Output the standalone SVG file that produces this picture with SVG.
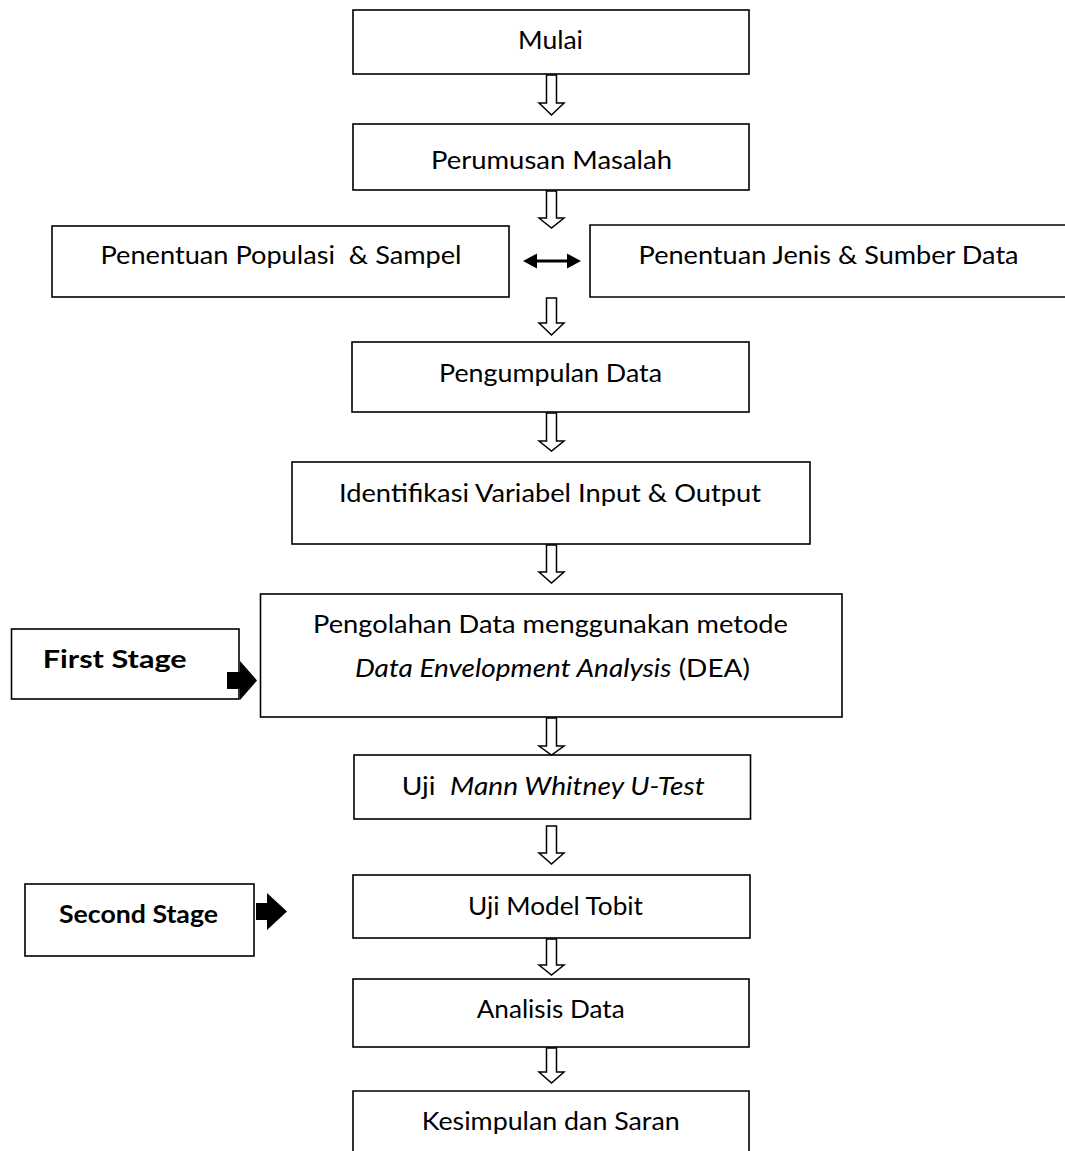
<svg xmlns="http://www.w3.org/2000/svg" width="1065" height="1151" viewBox="0 0 1065 1151">
<style>
.box{fill:#fff;stroke:#000;stroke-width:1.6}
.t{font-family:Lato,"Open Sans","Liberation Sans",sans-serif;font-size:25px;fill:#000}
.b{font-weight:bold}
.i{font-style:italic}
.ha{fill:#fff;stroke:#000;stroke-width:1.5;stroke-linejoin:miter}
.ba{fill:#000;stroke:none}
</style>
<rect width="1065" height="1151" fill="#fff"/>
<g id="n-mulai"><rect class="box" x="353" y="10" width="396" height="64"/><text class="t" x="518" y="49.3" textLength="65" lengthAdjust="spacingAndGlyphs">Mulai</text></g>
<g id="n-perumusan"><rect class="box" x="353" y="124" width="396" height="66"/><text class="t" x="431" y="168.5" textLength="241" lengthAdjust="spacingAndGlyphs">Perumusan Masalah</text></g>
<g id="n-populasi"><rect class="box" x="52" y="226" width="457" height="71"/><text class="t" x="100.5" y="264" textLength="361" lengthAdjust="spacingAndGlyphs" xml:space="preserve">Penentuan Populasi  &amp; Sampel</text></g>
<g id="n-jenis"><path class="box" d="M1068,225 H590 V297 H1068"/><text class="t" x="638.6" y="264" textLength="380" lengthAdjust="spacingAndGlyphs">Penentuan Jenis &amp; Sumber Data</text></g>
<g id="n-pengumpulan"><rect class="box" x="352" y="342" width="397" height="70"/><text class="t" x="439" y="381.7" textLength="223" lengthAdjust="spacingAndGlyphs">Pengumpulan Data</text></g>
<g id="n-identifikasi"><rect class="box" x="292" y="462" width="518" height="82"/><text class="t" x="339" y="501.7" textLength="422" lengthAdjust="spacingAndGlyphs">Identifikasi Variabel Input &amp; Output</text></g>
<g id="n-pengolahan"><rect class="box" x="260.5" y="594" width="581.5" height="123"/>
  <text class="t" x="313" y="633" textLength="475" lengthAdjust="spacingAndGlyphs">Pengolahan Data menggunakan metode</text>
  <text class="t" x="355" y="677" textLength="395" lengthAdjust="spacingAndGlyphs"><tspan class="i">Data Envelopment Analysis</tspan> (DEA)</text></g>
<g id="n-first"><rect class="box" x="11.5" y="629" width="227.5" height="70"/><text class="t b" x="42.7" y="667.7" textLength="144" lengthAdjust="spacingAndGlyphs">First Stage</text></g>
<g id="n-mann"><rect class="box" x="354" y="755" width="396.5" height="64"/><text class="t" x="401.7" y="795" textLength="303" lengthAdjust="spacingAndGlyphs" xml:space="preserve">Uji  <tspan class="i">Mann Whitney U-Test</tspan></text></g>
<g id="n-second"><rect class="box" x="25" y="884" width="229" height="72"/><text class="t b" x="59" y="923" textLength="159" lengthAdjust="spacingAndGlyphs">Second Stage</text></g>
<g id="n-tobit"><rect class="box" x="353" y="875" width="397" height="63"/><text class="t" x="468" y="915" textLength="175" lengthAdjust="spacingAndGlyphs">Uji Model Tobit</text></g>
<g id="n-analisis"><rect class="box" x="353" y="979" width="396" height="68"/><text class="t" x="476.7" y="1018" textLength="148" lengthAdjust="spacingAndGlyphs">Analisis Data</text></g>
<g id="n-kesimpulan"><path class="box" d="M353,1155 V1091 H749 V1155"/><text class="t" x="421.7" y="1130" textLength="258" lengthAdjust="spacingAndGlyphs">Kesimpulan dan Saran</text></g>
<g id="connectors">
  <path class="ha" d="M546.5,75 H556.5 V103 H564 L551.5,115 L539,103 H546.5 Z"/>
  <path class="ha" d="M546.5,191 H556.5 V218 H564 L551.5,228 L539,218 H546.5 Z"/>
  <path class="ha" d="M546.5,298 H556.5 V323 H564 L551.5,335 L539,323 H546.5 Z"/>
  <path class="ha" d="M546.5,413 H556.5 V441 H564 L551.5,451 L539,441 H546.5 Z"/>
  <path class="ha" d="M546.5,545 H556.5 V572 H564 L551.5,583 L539,572 H546.5 Z"/>
  <path class="ha" d="M546.5,718 H556.5 V746 H564 L551.5,755 L539,746 H546.5 Z"/>
  <path class="ha" d="M546.5,826 H556.5 V853 H564 L551.5,864 L539,853 H546.5 Z"/>
  <path class="ha" d="M546.5,939 H556.5 V965 H564 L551.5,975 L539,965 H546.5 Z"/>
  <path class="ha" d="M546.5,1048 H556.5 V1072 H564 L551.5,1083 L539,1072 H546.5 Z"/>
  <g id="double-arrow">
    <line x1="535" y1="261" x2="569" y2="261" stroke="#000" stroke-width="3"/>
    <path class="ba" d="M523,261 L537,253.5 V268.5 Z"/>
    <path class="ba" d="M581,261 L567,253.5 V268.5 Z"/>
  </g>
  <path class="ba" d="M227,672 H240 V661 L257,680.5 L240,700 V689 H227 Z"/>
  <path class="ba" d="M256,903 H267 V893 L287,911.5 L267,930 V920 H256 Z"/>
</g>
</svg>
